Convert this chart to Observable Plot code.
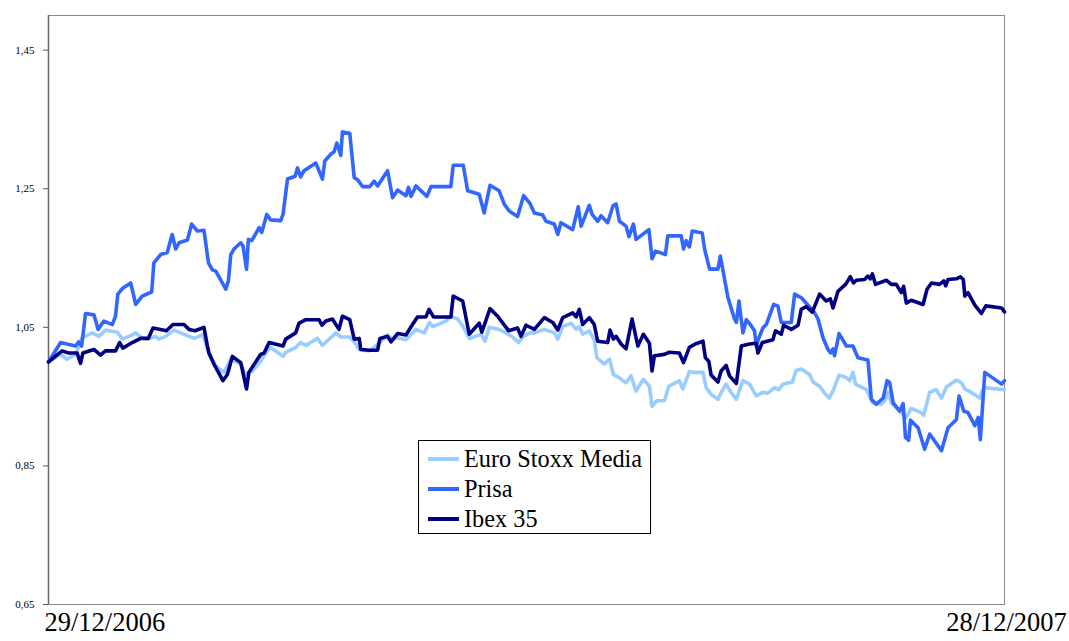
<!DOCTYPE html>
<html>
<head>
<meta charset="utf-8">
<script src="https://cdn.jsdelivr.net/npm/d3@7"></script>
<script src="https://cdn.jsdelivr.net/npm/@observablehq/plot@0.6"></script>
<style>
  html, body { margin: 0; padding: 0; background: #fff; }
  #wrap { position: relative; width: 1069px; height: 641px; font-family: "Liberation Serif", "DejaVu Serif", serif; }
  #legend { position: absolute; left: 418px; top: 440px; width: 231px; height: 92px; border: 1px solid #000; background: #fff; box-sizing: content-box; }
  .row { position: absolute; left: 0; height: 30px; display: flex; align-items: center; }
  .sw { width: 31px; height: 4px; margin-left: 9px; margin-right: 5px; }
  .lb { font-size: 24.3px; color: #000; line-height: 1; }
</style>
</head>
<body>
<div id="wrap"><div id="chart"></div><div id="legend"></div></div>
<script>
// ---- data (day offset since 29/12/2006, index value) ----
const startDate = "2006-12-29";
const endDate = "2007-12-28";
const seriesNames = ["Euro Stoxx Media", "Prisa", "Ibex 35"];
const seriesColors = ["#99CCFF", "#3366FF", "#000080"];
const yTicks = [0.65, 0.85, 1.05, 1.25, 1.45];
const xTickLabels = ["29/12/2006", "28/12/2007"];

const euroStoxx = [[0,1.000],[4.6,1.011],[7.1,1.004],[10.3,1.011],[12.8,1.035],[16.7,1.042],[19.2,1.037],[21.7,1.046],[26.2,1.043],[28.1,1.033],[31.9,1.039],[33.2,1.042],[35.1,1.036],[37.6,1.033],[40.8,1.037],[42,1.033],[44.6,1.037],[47.8,1.046],[51,1.041],[55.4,1.034],[58.6,1.039],[59.8,1.028],[61.1,1.011],[63.7,0.994],[66.8,0.985],[69.4,1.004],[73.2,0.997],[75.1,0.982],[77.6,0.987],[80.8,1.001],[82.7,1.013],[84.6,1.021],[87.2,1.014],[89.3,1.008],[90.3,1.014],[94.1,1.021],[96,1.028],[98,1.024],[102.4,1.034],[104.3,1.024],[106.6,1.032],[109.4,1.042],[111.3,1.036],[114.7,1.036],[116.4,1.029],[118.3,1.018],[122.1,1.016],[124.6,1.023],[129.1,1.039],[131,1.033],[132.9,1.035],[136.1,1.032],[139.9,1.047],[143.1,1.042],[145,1.057],[146.3,1.051],[151.3,1.059],[153.2,1.066],[155.8,1.062],[157.7,1.052],[160.2,1.034],[162.7,1.037],[164.7,1.040],[166.2,1.030],[167.8,1.050],[171.6,1.047],[174.2,1.042],[176.7,1.036],[179,1.028],[180.8,1.037],[183.3,1.042],[185,1.042],[188.8,1.047],[192.6,1.042],[193.9,1.033],[195.8,1.051],[199,1.056],[200.9,1.047],[202.1,1.051],[203.4,1.040],[205.9,1.045],[207.8,1.032],[208.8,1.006],[211.7,0.997],[213.6,1.004],[215.1,0.982],[217.4,0.977],[219.9,0.970],[221.8,0.980],[223.7,0.958],[226.5,0.975],[228.8,0.965],[229.8,0.936],[231.6,0.944],[234.5,0.944],[236.2,0.965],[240.2,0.973],[241.5,0.961],[244,0.986],[246,0.985],[249.2,0.985],[250.4,0.963],[252.3,0.953],[254.9,0.946],[256.1,0.956],[258,0.968],[259.9,0.956],[261.9,0.946],[264.4,0.973],[266.9,0.968],[269.5,0.951],[272,0.956],[273.9,0.955],[276.5,0.963],[278.1,0.960],[279.6,0.968],[283.2,0.971],[284.7,0.988],[286.6,0.990],[289.8,0.982],[291.1,0.971],[293.6,0.965],[295.5,0.955],[297.2,0.948],[298.7,0.958],[301,0.981],[303.5,0.978],[305.1,0.973],[306.3,0.985],[307.3,0.968],[311.4,0.960],[313.9,0.941],[317.1,0.939],[318.4,0.944],[319.7,0.956],[320.9,0.941],[324.7,0.927],[326.6,0.920],[328.5,0.933],[332.3,0.927],[333.2,0.923],[335.5,0.956],[338,0.960],[340,0.948],[341.9,0.964],[345.7,0.974],[347.6,0.970],[348.9,0.961],[351.4,0.956],[354.6,0.948],[356.1,0.963],[364,0.960]];

const prisa = [[0,1.000],[4.6,1.028],[10.3,1.023],[11.5,1.029],[12.6,1.023],[14.1,1.070],[17.3,1.068],[18.9,1.047],[21.1,1.059],[24.3,1.054],[25.5,1.066],[26.4,1.098],[28.1,1.106],[31.3,1.114],[33.2,1.083],[35.7,1.095],[39.3,1.101],[40.1,1.143],[42.7,1.155],[45.2,1.158],[47.1,1.184],[48.4,1.163],[49.7,1.172],[52.9,1.176],[54.5,1.199],[56.7,1.189],[59.2,1.190],[60.9,1.143],[62.4,1.133],[63.7,1.131],[67.5,1.105],[68.5,1.117],[69.4,1.155],[70.6,1.163],[73.2,1.172],[74.1,1.167],[75.4,1.134],[76.1,1.177],[77.4,1.175],[80.2,1.194],[81.2,1.187],[83.1,1.213],[84.6,1.205],[88.4,1.204],[89.3,1.213],[91,1.264],[93.9,1.268],[94.8,1.280],[96,1.267],[97.3,1.276],[101.8,1.287],[104.3,1.264],[105.2,1.290],[107.5,1.300],[108.7,1.303],[109.8,1.316],[111.3,1.298],[111.9,1.332],[114.7,1.330],[116.4,1.266],[117.7,1.263],[119.6,1.253],[122.3,1.253],[124,1.261],[125.3,1.254],[129.1,1.276],[131,1.237],[132.9,1.248],[136.1,1.240],[137.1,1.252],[138,1.239],[139.9,1.254],[144.1,1.239],[145.6,1.253],[153.2,1.253],[154.1,1.284],[157.9,1.284],[159.6,1.247],[164,1.242],[165.9,1.215],[168.1,1.255],[171.6,1.247],[173.5,1.228],[175.4,1.218],[178.6,1.210],[180.9,1.240],[183.3,1.229],[185,1.215],[188.2,1.212],[189.4,1.203],[192.6,1.199],[193.9,1.184],[195.1,1.201],[199.6,1.191],[201.7,1.224],[202.8,1.196],[205.9,1.226],[207,1.213],[209.1,1.203],[210.4,1.211],[212.9,1.201],[214.9,1.225],[216.1,1.228],[217.4,1.203],[219.9,1.196],[221,1.181],[222.7,1.199],[223.7,1.177],[228.6,1.191],[229.8,1.149],[231.1,1.160],[234.9,1.155],[235.8,1.182],[240.9,1.182],[241.8,1.163],[242.8,1.175],[244,1.166],[245.1,1.189],[248.9,1.186],[249.8,1.163],[251.7,1.134],[254.9,1.134],[255.8,1.153],[258.7,1.093],[261.2,1.062],[261.9,1.057],[262.9,1.088],[264.4,1.042],[265.7,1.061],[267.6,1.052],[268.8,1.045],[269.5,1.023],[270.5,1.035],[272,1.049],[273.3,1.054],[276.1,1.083],[277.7,1.081],[279,1.057],[282.8,1.057],[284.1,1.098],[285.4,1.095],[286.6,1.093],[291.7,1.071],[293,1.062],[294.9,1.035],[296.8,1.018],[297.8,1.013],[298.7,1.019],[299.3,1.009],[301,1.041],[303.8,1.023],[306.3,1.023],[308.2,1.006],[312,1.003],[313.3,0.946],[315.2,0.939],[317.8,0.948],[319.3,0.973],[320.3,0.970],[321.6,0.941],[324.1,0.929],[325.4,0.940],[326.3,0.891],[327.5,0.887],[328.2,0.916],[331.1,0.905],[333.6,0.874],[335.5,0.896],[340,0.872],[342.5,0.905],[345.7,0.917],[346.7,0.951],[348.5,0.929],[350.1,0.927],[352.7,0.908],[354,0.920],[354.8,0.888],[356.5,0.985],[362.9,0.968],[364,0.973]];

const ibex35 = [[0,1.000],[5.2,1.016],[7.7,1.013],[10.9,1.013],[12.2,0.998],[13.1,1.013],[17.3,1.018],[19.8,1.010],[21.7,1.016],[25.5,1.016],[27.1,1.028],[28.3,1.020],[31.9,1.028],[35.1,1.034],[38,1.034],[39.8,1.049],[44.9,1.045],[47.4,1.054],[51.6,1.054],[53.5,1.047],[55.8,1.045],[59.2,1.050],[60.5,1.023],[61.1,1.013],[63,0.997],[66.4,0.973],[68.1,0.982],[70,1.008],[73.2,0.999],[75.4,0.961],[76.3,0.985],[80.8,1.011],[82.1,1.013],[84,1.028],[89.3,1.023],[90.3,1.033],[94.1,1.042],[95.4,1.056],[98,1.061],[103,1.061],[104.1,1.053],[105.6,1.059],[108.1,1.062],[110.6,1.047],[111.9,1.066],[114.7,1.061],[116.4,1.033],[118.3,1.034],[118.9,1.018],[122.3,1.017],[125.3,1.017],[126.2,1.034],[129.1,1.037],[130.4,1.029],[132.9,1.041],[136.1,1.039],[138.6,1.054],[140.5,1.065],[143.7,1.065],[144.9,1.076],[146.6,1.065],[153.2,1.065],[154.1,1.095],[157.7,1.088],[160.2,1.040],[164,1.056],[165,1.043],[168.1,1.077],[171,1.066],[175.2,1.045],[178.6,1.049],[179.9,1.037],[181.8,1.053],[185,1.047],[188.8,1.064],[192,1.057],[193.9,1.046],[195.8,1.064],[199.6,1.071],[200.9,1.065],[202.1,1.076],[203.4,1.054],[205.9,1.064],[207.8,1.054],[209.1,1.030],[212.9,1.028],[213.8,1.046],[215.1,1.033],[216.1,1.037],[218,1.026],[219.9,1.019],[222.2,1.062],[224.4,1.023],[226.5,1.040],[228.8,1.027],[229.8,0.987],[230.7,1.009],[234.5,1.011],[236.2,1.014],[240.2,1.013],[241.8,0.999],[244,1.021],[246.3,1.026],[249.2,1.030],[250.1,1.006],[251.4,1.001],[252.3,0.981],[254.9,0.971],[256.1,0.987],[258,0.995],[259.3,0.980],[261.9,0.969],[263.8,1.023],[266.9,1.026],[269.5,1.027],[270.1,1.013],[271.8,1.028],[275.8,1.032],[276.8,1.045],[279,1.040],[279.9,1.053],[282.8,1.047],[285.4,1.053],[286.6,1.076],[288.5,1.080],[290.8,1.072],[293.6,1.098],[296.1,1.088],[297.7,1.091],[298.7,1.078],[300.6,1.102],[303.5,1.112],[305.3,1.123],[306.5,1.114],[307.6,1.118],[310.7,1.119],[312,1.124],[312.9,1.120],[313.7,1.127],[314.9,1.112],[319,1.118],[320.9,1.112],[322.8,1.112],[324.7,1.100],[325.6,1.109],[326.6,1.085],[328.5,1.089],[333,1.083],[334.5,1.105],[336.2,1.114],[339.3,1.112],[340.9,1.117],[341.6,1.110],[342.5,1.119],[345.7,1.120],[347.2,1.123],[348.3,1.119],[348.9,1.095],[350.1,1.100],[352.7,1.082],[355.2,1.070],[356.9,1.081],[362.9,1.078],[364,1.072]];

// ---- build ----
const t0 = new Date(startDate + "T00:00:00Z");
const t1 = new Date(endDate + "T00:00:00Z");
const toDate = d => new Date(t0.getTime() + d * 864e5);
const rows = [euroStoxx, prisa, ibex35].flatMap((s, i) =>
  s.map(([d, v]) => ({series: seriesNames[i], date: toDate(d), value: v})));
const fmt = v => d3.format(".2f")(v).replace(".", ",");
const font = '"Liberation Serif", "DejaVu Serif", serif';

const chart = Plot.plot({
  width: 1069,
  height: 641,
  marginLeft: 48,
  marginRight: 65,
  marginTop: 15,
  marginBottom: 37,
  style: {fontFamily: font, background: "#fff", color: "#000"},
  x: {type: "utc", domain: [t0, t1], axis: null},
  y: {domain: [0.65, 1.50], axis: null},
  color: {domain: seriesNames, range: seriesColors},
  marks: [
    Plot.frame({stroke: "#8a8a8a", strokeWidth: 1}),
    Plot.ruleX([t0], {stroke: "#666", strokeWidth: 1.5}),
    Plot.axisY({ticks: yTicks, tickFormat: fmt, tickSize: 5, tickPadding: 9, fontSize: 11, stroke: "#555", fill: "#000", label: null}),
    Plot.line(rows, {x: "date", y: "value", z: "series", stroke: "series", strokeWidth: 3.6, strokeLinejoin: "round", strokeLinecap: "round"}),
    Plot.text([xTickLabels[0]], {x: () => t0, frameAnchor: "bottom", dy: 26, textAnchor: "start", dx: -4, text: d => d, fontSize: 26.5, fill: "#000"}),
    Plot.text([xTickLabels[1]], {x: () => t1, frameAnchor: "bottom", dy: 26, textAnchor: "middle", dx: 2, text: d => d, fontSize: 26.5, fill: "#000"})
  ]
});
document.getElementById("chart").appendChild(chart);

// ---- legend ----
const legend = document.getElementById("legend");
seriesNames.forEach((name, i) => {
  const row = document.createElement("div");
  row.className = "row";
  row.style.top = (3 + i * 30) + "px";
  row.innerHTML = `<div class="sw" style="background:${seriesColors[i]}"></div><div class="lb">${name}</div>`;
  legend.appendChild(row);
});
</script>
</body>
</html>
